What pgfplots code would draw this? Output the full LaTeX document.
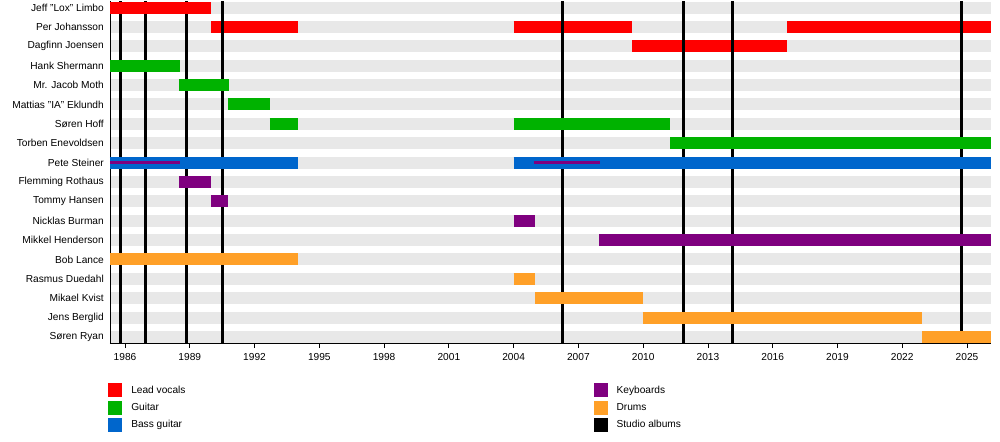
\documentclass[border=0pt]{standalone}
\usepackage{fontspec}
\setmainfont{Liberation Sans}
\usepackage{pgfplots}
\pgfplotsset{compat=1.18}
\definecolor{voc}{RGB}{255,0,0}
\definecolor{gtr}{RGB}{0,178,0}
\definecolor{bass}{RGB}{0,102,204}
\definecolor{keys}{RGB}{127,0,127}
\definecolor{drm}{RGB}{255,160,40}
\definecolor{stripe}{RGB}{232,232,232}
\begin{document}
\begin{tikzpicture}
\begin{axis}[name=ax, scale only axis, width=881bp, height=341.5bp,
  xmin=1985.305, xmax=2026.11, ymin=-17.31, ymax=0.31,
  axis lines=left, axis line style={-, black, line width=0.8bp},
  tick align=outside, major tick length=5bp, minor tick length=3bp,
  xtick={1986,1989,...,2025}, minor x tick num=2,
  xticklabels={1986,1989,1992,1995,1998,2001,2004,2007,2010,2013,2016,2019,2022,2025},
  x tick style={black, line width=0.8bp},
  ytick={0,-1,...,-17},
  yticklabels={Jeff "Lox" Limbo,Per Johansson,Dagfinn Joensen,Hank Shermann,Mr. Jacob Moth,Mattias "IA" Eklundh,Søren Hoff,Torben Enevoldsen,Pete Steiner,Flemming Rothaus,Tommy Hansen,Nicklas Burman,Mikkel Henderson,Bob Lance,Rasmus Duedahl,Mikael Kvist,Jens Berglid,Søren Ryan},
  y tick style={draw=none},
  ymajorgrids, major grid style={line width=12bp, stripe},
  tick label style={font=\fontsize{10.2}{12}\selectfont, black},
  yticklabel style={inner sep=1bp},
  xticklabel style={yshift=-1.5bp},
  clip=false,
  legend columns=2, legend cell align=left,
  legend style={at={(0,0)}, anchor=north west, xshift=-2bp, yshift=-40.2bp,
    draw=none, fill=none, inner sep=0pt, row sep=4bp,
    font=\fontsize{10.2}{12}\selectfont,
    nodes={inner sep=0pt},
    /tikz/every odd column/.append style={column sep=9.7bp},
    /tikz/every even column/.append style={column sep=408bp}},
]
% red bars drawn beneath the album lines
\addplot[forget plot, voc, line width=12bp] coordinates {(1990.0,-1) (1994.0,-1)};
\addplot[forget plot, voc, line width=12bp] coordinates {(2004.0,-1) (2009.5,-1)};
\addplot[forget plot, voc, line width=12bp] coordinates {(2016.67,-1) (2026.11,-1)};
\addplot[forget plot, voc, line width=12bp] coordinates {(2009.5,-2) (2016.67,-2)};
% studio albums
\addplot[forget plot, black, line width=3bp] coordinates {(1985.81,-17.31) (1985.81,0.31)};
\addplot[forget plot, black, line width=3bp] coordinates {(1986.93,-17.31) (1986.93,0.31)};
\addplot[forget plot, black, line width=3bp] coordinates {(1988.83,-17.31) (1988.83,0.31)};
\addplot[forget plot, black, line width=3bp] coordinates {(1990.51,-17.31) (1990.51,0.31)};
\addplot[forget plot, black, line width=3bp] coordinates {(2006.26,-17.31) (2006.26,0.31)};
\addplot[forget plot, black, line width=3bp] coordinates {(2011.87,-17.31) (2011.87,0.31)};
\addplot[forget plot, black, line width=3bp] coordinates {(2014.14,-17.31) (2014.14,0.31)};
\addplot[forget plot, black, line width=3bp] coordinates {(2024.76,-17.31) (2024.76,0.31)};
% remaining bars
\addplot[forget plot, voc, line width=12bp] coordinates {(1985.305,0) (1990.0,0)};
\addplot[forget plot, gtr, line width=12bp] coordinates {(1985.305,-3) (1988.55,-3)};
\addplot[forget plot, gtr, line width=12bp] coordinates {(1988.5,-4) (1990.8,-4)};
\addplot[forget plot, gtr, line width=12bp] coordinates {(1990.75,-5) (1992.7,-5)};
\addplot[forget plot, gtr, line width=12bp] coordinates {(1992.7,-6) (1994.0,-6)};
\addplot[forget plot, gtr, line width=12bp] coordinates {(2004.0,-6) (2011.25,-6)};
\addplot[forget plot, gtr, line width=12bp] coordinates {(2011.25,-7) (2026.11,-7)};
\addplot[forget plot, bass, line width=12bp] coordinates {(1985.305,-8) (1994.0,-8)};
\addplot[forget plot, bass, line width=12bp] coordinates {(2004.0,-8) (2026.11,-8)};
\addplot[forget plot, keys, line width=3.5bp] coordinates {(1985.305,-8) (1988.55,-8)};
\addplot[forget plot, keys, line width=3.5bp] coordinates {(2004.92,-8) (2008.0,-8)};
\addplot[forget plot, keys, line width=12bp] coordinates {(1988.5,-9) (1990.0,-9)};
\addplot[forget plot, keys, line width=12bp] coordinates {(1990.0,-10) (1990.77,-10)};
\addplot[forget plot, keys, line width=12bp] coordinates {(2004.0,-11) (2005.0,-11)};
\addplot[forget plot, keys, line width=12bp] coordinates {(2007.97,-12) (2026.11,-12)};
\addplot[forget plot, drm, line width=12bp] coordinates {(1985.305,-13) (1994.0,-13)};
\addplot[forget plot, drm, line width=12bp] coordinates {(2004.0,-14) (2005.0,-14)};
\addplot[forget plot, drm, line width=12bp] coordinates {(2005.0,-15) (2009.97,-15)};
\addplot[forget plot, drm, line width=12bp] coordinates {(2009.97,-16) (2022.93,-16)};
\addplot[forget plot, drm, line width=12bp] coordinates {(2022.93,-17) (2026.11,-17)};
% legend
\addlegendimage{legend image code/.code={\fill[voc] (0bp,-6.5bp) rectangle (13bp,6.5bp);}}
\addlegendentry{Lead vocals}
\addlegendimage{legend image code/.code={\fill[keys] (0bp,-6.5bp) rectangle (13bp,6.5bp);}}
\addlegendentry{Keyboards}
\addlegendimage{legend image code/.code={\fill[gtr] (0bp,-6.5bp) rectangle (13bp,6.5bp);}}
\addlegendentry{Guitar}
\addlegendimage{legend image code/.code={\fill[drm] (0bp,-6.5bp) rectangle (13bp,6.5bp);}}
\addlegendentry{Drums}
\addlegendimage{legend image code/.code={\fill[bass] (0bp,-6.5bp) rectangle (13bp,6.5bp);}}
\addlegendentry{Bass guitar}
\addlegendimage{legend image code/.code={\fill[black] (0bp,-6.5bp) rectangle (13bp,6.5bp);}}
\addlegendentry{Studio albums}
\end{axis}
\path ([shift={(-110bp,-98.5bp)}]ax.south west) rectangle ([shift={(9bp,0bp)}]ax.north east);
\end{tikzpicture}
\end{document}
